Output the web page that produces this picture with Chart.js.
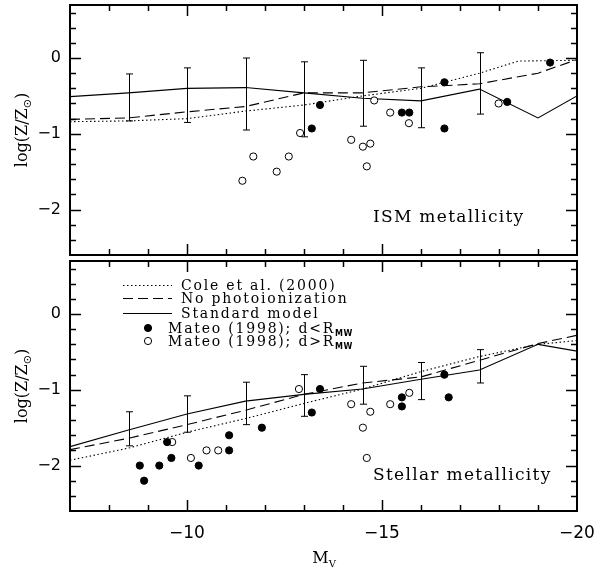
<!DOCTYPE html>
<html>
<head>
<meta charset="utf-8">
<script src="https://cdn.jsdelivr.net/npm/chart.js@4.4.0/dist/chart.umd.min.js"></script>
<style>
  html, body { margin: 0; padding: 0; background: #fff; }
  #wrap { position: relative; width: 597px; height: 567px; }
  canvas { position: absolute; left: 0; }
</style>
</head>
<body>
<div id="wrap">
  <canvas id="ism" width="597" height="260" style="top:0"></canvas>
  <canvas id="star" width="597" height="311" style="top:256px"></canvas>
</div>
<script>
// axis ticks
const xTickLabels = [-10, -15, -20];
const xTickMajor = [-10, -15];
const xTickMinor = [-8, -9, -11, -12, -13, -14, -16, -17, -18, -19];
const yTickLabels = [-2, -1, 0];
const yTickMinor = [-2.4, -2.2, -1.8, -1.6, -1.4, -1.2, -0.8, -0.6, -0.4, -0.2, 0.2, 0.4, 0.6];

// model curves
const modelX = [-7, -8.5, -10, -11.5, -13, -14.5, -16, -17.5, -19, -20];
const coleIsmX = [-7, -8.5, -10, -11.5, -13, -14.5, -16, -17.5, -18.5, -20];
const ismStandard = [-0.51, -0.46, -0.40, -0.39, -0.46, -0.53, -0.565, -0.41, -0.79, -0.50];
const ismNoPhoto = [-0.81, -0.79, -0.71, -0.64, -0.46, -0.46, -0.38, -0.34, -0.20, -0.02];
const ismCole = [-0.84, -0.83, -0.80, -0.70, -0.62, -0.50, -0.40, -0.20, -0.04, -0.03];
const starStandard = [-1.75, -1.53, -1.32, -1.15, -1.06, -0.99, -0.86, -0.74, -0.40, -0.49];
const starNoPhoto = [-1.79, -1.64, -1.46, -1.27, -1.06, -0.91, -0.83, -0.61, -0.39, -0.28];
const starCole = [-1.93, -1.77, -1.56, -1.38, -1.18, -0.99, -0.76, -0.56, -0.40, -0.35];

// model scatter (error bars)
const errX = [-8.5, -10, -11.5, -13, -14.5, -16, -17.5];
const ismErrLo = [-0.83, -0.85, -0.95, -1.04, -0.90, -0.92, -0.74];
const ismErrHi = [-0.21, -0.13, 0.00, -0.05, -0.03, -0.13, 0.07];
const starErrLo = [-1.74, -1.56, -1.46, -1.35, -1.19, -1.13, -0.91];
const starErrHi = [-1.29, -1.08, -0.90, -0.80, -0.69, -0.64, -0.47];

// Mateo (1998) galaxies, d<R_MW (filled) and d>R_MW (open)
const ismInX = [-13.20, -13.41, -15.51, -15.70, -16.60, -16.60, -18.21, -19.31];
const ismInY = [-0.93, -0.62, -0.72, -0.72, -0.32, -0.93, -0.58, -0.06];
const ismOutX = [-11.42, -11.70, -12.30, -12.61, -12.90, -14.21, -14.51, -14.70, -14.61, -14.80, -15.21, -15.69, -17.99];
const ismOutY = [-1.62, -1.30, -1.50, -1.30, -0.99, -1.08, -1.17, -1.13, -1.43, -0.56, -0.72, -0.86, -0.60];
const starInX = [-8.79, -8.90, -9.29, -9.49, -9.60, -10.30, -11.08, -11.08, -11.92, -13.20, -13.41, -15.51, -15.51, -16.60, -16.71];
const starInY = [-2.00, -2.20, -2.00, -1.69, -1.90, -2.00, -1.60, -1.80, -1.50, -1.30, -0.99, -1.10, -1.22, -0.80, -1.10];
const starOutX = [-9.62, -10.10, -10.50, -10.80, -12.87, -14.21, -14.51, -14.70, -14.61, -15.21, -15.70];
const starOutY = [-1.69, -1.90, -1.80, -1.80, -0.99, -1.19, -1.50, -1.29, -1.90, -1.19, -1.04];

const SERIF = '"DejaVu Serif", serif';
const SANS = '"DejaVu Sans", sans-serif';
const DOTTED = [1.5, 2.5];
const DASHED = [10, 5];

const pts = (xs, ys) => xs.map((x, i) => ({ x: x, y: ys[i] }));
const minus = v => String(v).replace('-', '\u2212');

// text with a subscript, drawn left to right from x
function subText(ctx, parts, x, y, spacing) {
    parts.forEach(p => {
        ctx.font = p.font;
        ctx.letterSpacing = (p.spacing != null ? p.spacing : spacing) + 'px';
        ctx.fillText(p.t, x, y + (p.dy || 0));
        x += ctx.measureText(p.t).width;
    });
    ctx.letterSpacing = '0px';
    return x;
}

function drawTickMarks(ctx, a, x, y) {
    ctx.save();
    ctx.setLineDash([]);
    ctx.lineCap = 'butt';
    ctx.strokeStyle = '#000';
    ctx.lineWidth = 1.5;
    const seg = (x0, y0, x1, y1) => {
        ctx.beginPath();
        ctx.moveTo(x0, y0);
        ctx.lineTo(x1, y1);
        ctx.stroke();
    };
    xTickMajor.concat(xTickMinor).forEach(v => {
        const px = Math.round(x.getPixelForValue(v)) + 0.5;
        const len = xTickMajor.indexOf(v) >= 0 ? 11 : 6;
        seg(px, a.top, px, a.top + len);
        seg(px, a.bottom, px, a.bottom - len);
    });
    yTickLabels.concat(yTickMinor).forEach(v => {
        const py = Math.round(y.getPixelForValue(v)) + 0.5;
        const len = yTickLabels.indexOf(v) >= 0 ? 11 : 6;
        seg(a.left, py, a.left + len, py);
        seg(a.right, py, a.right - len, py);
    });
    ctx.restore();
}

function framePlugin(panel) {
    return {
        id: 'frame',
        afterDatasetsDraw(chart) {
            const { ctx, scales: { x, y } } = chart;
            ctx.save();
            ctx.setLineDash([]);
            ctx.strokeStyle = '#000';
            ctx.lineWidth = 1;
            ctx.beginPath();
            errX.forEach((v, i) => {
                const px = Math.round(x.getPixelForValue(v)) + 0.5;
                const lo = y.getPixelForValue(panel.errLo[i]);
                const hi = y.getPixelForValue(panel.errHi[i]);
                ctx.moveTo(px, lo); ctx.lineTo(px, hi);
                ctx.moveTo(px - 3.5, lo); ctx.lineTo(px + 3.5, lo);
                ctx.moveTo(px - 3.5, hi); ctx.lineTo(px + 3.5, hi);
            });
            ctx.stroke();
            ctx.restore();
        },
        afterDraw(chart) {
            const { ctx, chartArea: a, scales: { x, y } } = chart;
            ctx.save();
            ctx.setLineDash([]);
            ctx.strokeStyle = '#000';
            ctx.fillStyle = '#000';
            ctx.lineWidth = 2;
            ctx.strokeRect(a.left, a.top, a.right - a.left, a.bottom - a.top);
            drawTickMarks(ctx, a, x, y);

            // panel label
            ctx.textBaseline = 'alphabetic';
            ctx.textAlign = 'left';
            subText(ctx, [{ t: panel.label, font: '17px ' + SERIF }], a.left + 303, a.bottom - panel.labelLift, 1.3);

            // y title log(Z/Z_sun), rotated
            ctx.save();
            ctx.translate(27, (a.top + a.bottom) / 2);
            ctx.rotate(-Math.PI / 2);
            const parts = [
                { t: 'log(Z/Z', font: '16px ' + SERIF },
                { t: '\u2299', font: '11px ' + SANS, dy: 4 },
                { t: ')', font: '16px ' + SERIF }
            ];
            let w = 0;
            parts.forEach(p => { ctx.font = p.font; w += ctx.measureText(p.t).width; });
            subText(ctx, parts, -w / 2, 0, 0);
            ctx.restore();

            if (panel.legend) {
                const rowY = [24, 37, 52, 67, 80].map(d => a.top + d);
                const styles = [DOTTED, DASHED, []];
                const names = ['Cole et al. (2000)', 'No photoionization', 'Standard model'];
                ctx.lineWidth = 1;
                styles.forEach((dash, i) => {
                    ctx.setLineDash(dash);
                    ctx.beginPath();
                    ctx.moveTo(a.left + 53, rowY[i] + 0.5);
                    ctx.lineTo(a.left + 102, rowY[i] + 0.5);
                    ctx.stroke();
                    ctx.setLineDash([]);
                    subText(ctx, [{ t: names[i], font: '14px ' + SERIF }], a.left + 111, rowY[i] + 5, 1.8);
                });
                [['#000', '<'], ['#fff', '>']].forEach((m, j) => {
                    const ry = rowY[3 + j];
                    ctx.beginPath();
                    ctx.arc(a.left + 78, ry, 3.6, 0, Math.PI * 2);
                    ctx.fillStyle = m[0];
                    ctx.fill();
                    ctx.stroke();
                    ctx.fillStyle = '#000';
                    subText(ctx, [
                        { t: 'Mateo (1998); d' + m[1] + 'R', font: '14px ' + SERIF },
                        { t: 'MW', font: 'bold 8px ' + SANS, dy: 3, spacing: 0.5 }
                    ], a.left + 98, ry + 5, 1.8);
                });
            }

            if (panel.showX) {
                // x title M_V
                const cx = (a.left + a.right) / 2;
                ctx.font = '16px ' + SERIF;
                const wm = ctx.measureText('M').width;
                subText(ctx, [
                    { t: 'M', font: '16px ' + SERIF },
                    { t: 'V', font: '10px ' + SERIF, dy: 4 }
                ], cx - wm / 2 - 3, a.bottom + 52, 0);
            }
            ctx.restore();
        }
    };
}

function makePanel(id, panel) {
    new Chart(document.getElementById(id), {
        type: 'scatter',
        data: {
            datasets: [
                { label: 'd<R_MW', data: pts(panel.inX, panel.inY), pointRadius: 3.6, pointBackgroundColor: '#000', pointBorderColor: '#000', pointBorderWidth: 1 },
                { label: 'd>R_MW', data: pts(panel.outX, panel.outY), pointRadius: 3.6, pointBackgroundColor: '#fff', pointBorderColor: '#000', pointBorderWidth: 1 },
                { label: 'Standard model', data: pts(modelX, panel.standard), showLine: true, borderColor: '#000', borderWidth: 1.1, pointRadius: 0 },
                { label: 'No photoionization', data: pts(modelX, panel.noPhoto), showLine: true, borderColor: '#000', borderWidth: 1.1, borderDash: DASHED, pointRadius: 0 },
                { label: 'Cole et al. (2000)', data: pts(panel.coleX, panel.cole), showLine: true, borderColor: '#000', borderWidth: 1.1, borderDash: DOTTED, pointRadius: 0 }
            ]
        },
        options: {
            responsive: false,
            animation: false,
            events: [],
            layout: { padding: { top: panel.padTop, right: 20, bottom: panel.padBottom, left: 0 } },
            plugins: { legend: { display: false }, tooltip: { enabled: false } },
            scales: {
                x: {
                    type: 'linear', min: -20, max: -7, reverse: true,
                    display: panel.showX,
                    grid: { display: false, drawTicks: false },
                    border: { display: false },
                    ticks: { color: '#000', font: { family: SANS, size: 17 }, padding: 12, autoSkip: false, maxRotation: 0, callback: minus },
                    afterBuildTicks: s => { s.ticks = xTickLabels.map(v => ({ value: v })); },
                    afterFit: s => {
                        if (panel.showX) s.height = 56;
                        s.paddingLeft = 0; s.paddingRight = 0;
                    }
                },
                y: {
                    type: 'linear', min: -2.6, max: 0.7,
                    grid: { display: false, drawTicks: false },
                    border: { display: false },
                    ticks: { color: '#000', font: { family: SANS, size: 16 }, padding: 9, autoSkip: false, callback: minus },
                    afterBuildTicks: s => { s.ticks = yTickLabels.map(v => ({ value: v })); },
                    afterFit: s => { s.width = 70; s.paddingTop = 0; s.paddingBottom = 0; }
                }
            }
        },
        plugins: [framePlugin(panel)]
    });
}

makePanel('ism', {
    inX: ismInX, inY: ismInY, outX: ismOutX, outY: ismOutY,
    standard: ismStandard, noPhoto: ismNoPhoto, coleX: coleIsmX, cole: ismCole,
    errLo: ismErrLo, errHi: ismErrHi,
    label: 'ISM metallicity', labelLift: 33,
    padTop: 4, padBottom: 2, showX: false, legend: false
});

makePanel('star', {
    inX: starInX, inY: starInY, outX: starOutX, outY: starOutY,
    standard: starStandard, noPhoto: starNoPhoto, coleX: modelX, cole: starCole,
    errLo: starErrLo, errHi: starErrHi,
    label: 'Stellar metallicity', labelLift: 31,
    padTop: 2, padBottom: 0, showX: true, legend: true
});
</script>
</body>
</html>
